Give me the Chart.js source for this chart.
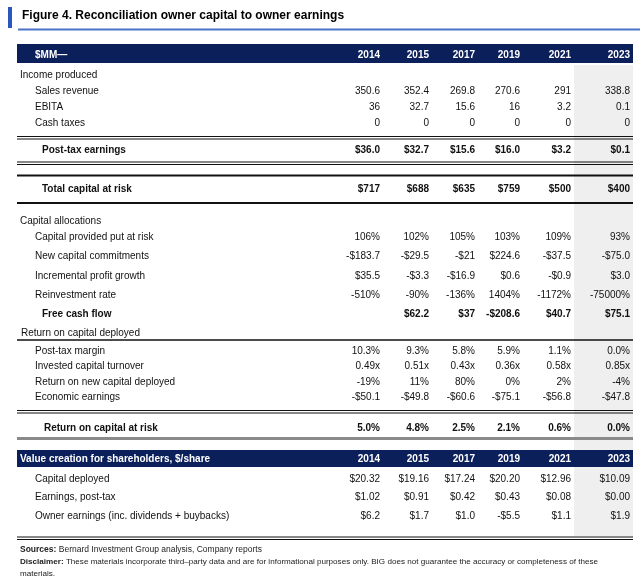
<!DOCTYPE html>
<html>
<head>
<meta charset="utf-8">
<script src="https://cdn.jsdelivr.net/npm/chart.js@4.4.1/dist/chart.umd.min.js"></script>
<style>
  html, body { margin: 0; padding: 0; background: #fff; }
  #wrap { position: relative; width: 640px; height: 577px; }
</style>
</head>
<body>
<div id="wrap"><canvas id="table"></canvas></div>
<script>
// column headers
const years = ["2014", "2015", "2017", "2019", "2021", "2023"];

// income produced
const salesRevenue = [350.6, 352.4, 269.8, 270.6, 291, 338.8];
const ebita = [36, 32.7, 15.6, 16, 3.2, 0.1];
const cashTaxes = [0, 0, 0, 0, 0, 0];
const postTaxEarnings = [36.0, 32.7, 15.6, 16.0, 3.2, 0.1];
const totalCapitalAtRisk = [717, 688, 635, 759, 500, 400];

// capital allocations
const capitalProvided = [106, 102, 105, 103, 109, 93];
const newCapital = [-183.7, -29.5, -21, 224.6, -37.5, -75.0];
const newCapitalDp = [1, 1, 0, 1, 1, 1];
const incrementalProfit = [35.5, -3.3, -16.9, 0.6, -0.9, 3.0];
const reinvestmentRate = [-510, -90, -136, 1404, -1172, -75000];
const freeCashFlow = [null, 62.2, 37, -208.6, 40.7, 75.1];
const freeCashFlowDp = [1, 1, 0, 1, 1, 1];

// return on capital deployed
const postTaxMargin = [10.3, 9.3, 5.8, 5.9, 1.1, 0.0];
const capitalTurnover = [0.49, 0.51, 0.43, 0.36, 0.58, 0.85];
const returnOnNewCapital = [-19, 11, 80, 0, 2, -4];
const economicEarnings = [-50.1, -49.8, -60.6, -75.1, -56.8, -47.8];
const returnOnCapitalAtRisk = [5.0, 4.8, 2.5, 2.1, 0.6, 0.0];

// per share
const capitalDeployedPerShare = [20.32, 19.16, 17.24, 20.20, 12.96, 10.09];
const earningsPerShare = [1.02, 0.91, 0.42, 0.43, 0.08, 0.00];
const ownerEarningsPerShare = [6.2, 1.7, 1.0, -5.5, 1.1, 1.9];

// formatters
const plain = v => String(v);
const money = dp => (v, i) => {
  const d = Array.isArray(dp) ? dp[i] : dp;
  return (v < 0 ? "-$" : "$") + Math.abs(v).toFixed(d);
};
const pct = dp => v => v.toFixed(dp) + "%";
const times = v => v.toFixed(2) + "x";

const NAVY = "#0b1f5a";
const FONT = "'Liberation Sans', Arial, sans-serif";

// table layout (positions in canvas units)
const colRight = [380, 429, 475, 520, 571, 630];
const rows = [
  { label: "$MM\u2014", x: 35, y: 55, head: true },
  { label: "Income produced", x: 20, y: 75 },
  { label: "Sales revenue", x: 35, y: 91, values: salesRevenue, fmt: plain },
  { label: "EBITA", x: 35, y: 107, values: ebita, fmt: plain },
  { label: "Cash taxes", x: 35, y: 123, values: cashTaxes, fmt: plain },
  { label: "Post-tax earnings", x: 42, y: 150.5, values: postTaxEarnings, fmt: money(1), bold: true },
  { label: "Total capital at risk", x: 42, y: 189.5, values: totalCapitalAtRisk, fmt: money(0), bold: true },
  { label: "Capital allocations", x: 20, y: 221 },
  { label: "Capital provided put at risk", x: 35, y: 237.5, values: capitalProvided, fmt: pct(0) },
  { label: "New capital commitments", x: 35, y: 256.5, values: newCapital, fmt: money(newCapitalDp) },
  { label: "Incremental profit growth", x: 35, y: 276, values: incrementalProfit, fmt: money(1) },
  { label: "Reinvestment rate", x: 35, y: 295, values: reinvestmentRate, fmt: pct(0) },
  { label: "Free cash flow", x: 42, y: 314, values: freeCashFlow, fmt: money(freeCashFlowDp), bold: true },
  { label: "Return on capital deployed", x: 21, y: 333.5 },
  { label: "Post-tax margin", x: 35, y: 351, values: postTaxMargin, fmt: pct(1) },
  { label: "Invested capital turnover", x: 35, y: 366.5, values: capitalTurnover, fmt: times },
  { label: "Return on new capital deployed", x: 35, y: 382, values: returnOnNewCapital, fmt: pct(0) },
  { label: "Economic earnings", x: 35, y: 397.5, values: economicEarnings, fmt: money(1) },
  { label: "Return on capital at risk", x: 44, y: 428, values: returnOnCapitalAtRisk, fmt: pct(1), bold: true },
  { label: "Value creation for shareholders, $/share", x: 20, y: 459, head: true },
  { label: "Capital deployed", x: 35, y: 479, values: capitalDeployedPerShare, fmt: money(2) },
  { label: "Earnings, post-tax", x: 35, y: 497.5, values: earningsPerShare, fmt: money(2) },
  { label: "Owner earnings (inc. dividends + buybacks)", x: 35, y: 516.5, values: ownerEarningsPerShare, fmt: money(1) },
];
const rules = [
  { y: 136.5, w: 1 }, { y: 139, w: 1 },
  { y: 162, w: 1 }, { y: 164.5, w: 1 },
  { y: 175.5, w: 2 },
  { y: 203, w: 2 },
  { y: 340, w: 1.5 },
  { y: 410.5, w: 1 }, { y: 413, w: 1 },
  { y: 438.5, w: 3, color: "#8a8a8a" },
  { y: 537, w: 1 }, { y: 539.5, w: 1 },
];
const bands = [{ y0: 44, y1: 63 }, { y0: 450, y1: 467 }];

// one dataset for row labels, one per year column
const labelData = rows.map(r => ({
  x: r.x, y: r.y, text: r.label,
  bold: r.bold || r.head, color: r.head ? "#fff" : "#111", align: "left",
}));
const yearSets = years.map((yr, c) => ({
  label: yr,
  data: rows.filter(r => r.head || r.values).flatMap(r => {
    if (r.head) return [{ x: colRight[c], y: r.y, text: yr, bold: true, color: "#fff", align: "right" }];
    const v = r.values[c];
    if (v == null) return [];
    return [{ x: colRight[c], y: r.y, text: r.fmt(v, c), bold: !!r.bold, color: "#111", align: "right" }];
  }),
}));

const tablePlugin = {
  id: "tableDraw",
  beforeDatasetsDraw(chart) {
    const { ctx, scales: { x, y } } = chart;
    const px = v => x.getPixelForValue(v);
    const py = v => y.getPixelForValue(v);
    ctx.save();
    // shaded latest column
    ctx.fillStyle = "#efefef";
    ctx.fillRect(px(574), py(65), px(633) - px(574), py(536) - py(65));
    // navy header bands
    ctx.fillStyle = NAVY;
    bands.forEach(b => ctx.fillRect(px(17), py(b.y0), px(633) - px(17), py(b.y1) - py(b.y0)));
    // horizontal rules
    rules.forEach(r => {
      ctx.strokeStyle = r.color || "#111";
      ctx.lineWidth = r.w;
      ctx.beginPath();
      ctx.moveTo(px(17), py(r.y));
      ctx.lineTo(px(633), py(r.y));
      ctx.stroke();
    });
    // title block
    ctx.fillStyle = "#2b56c0";
    ctx.fillRect(px(8), py(7), 4, 21);
    ctx.strokeStyle = "#4a72c8";
    ctx.lineWidth = 2;
    ctx.beginPath();
    ctx.moveTo(px(18), py(29.5));
    ctx.lineTo(px(640), py(29.5));
    ctx.stroke();
    ctx.fillStyle = "#000";
    ctx.font = "bold 12px " + FONT;
    ctx.textBaseline = "alphabetic";
    ctx.textAlign = "left";
    ctx.fillText("Figure 4. Reconciliation owner capital to owner earnings", px(22), py(19));
    // footnotes
    const note = (bold, rest, yy, size) => {
      ctx.font = "bold " + size + "px " + FONT;
      ctx.fillText(bold, px(20), py(yy));
      const w = bold ? ctx.measureText(bold + " ").width : 0;
      ctx.font = size + "px " + FONT;
      ctx.fillText(rest, px(20) + w, py(yy));
    };
    ctx.fillStyle = "#222";
    note("Sources:", "Bernard Investment Group analysis, Company reports", 552, 8.5);
    note("Disclaimer:", "These materials incorporate third\u2013party data and are for informational purposes only. BIG does not guarantee the accuracy or completeness of these", 564, 8.1);
    note("", "materials.", 576, 8.1);
    ctx.restore();
  },
  afterDatasetsDraw(chart) {
    const { ctx } = chart;
    ctx.save();
    ctx.textBaseline = "middle";
    chart.data.datasets.forEach((ds, i) => {
      const meta = chart.getDatasetMeta(i);
      meta.data.forEach((pt, j) => {
        const cell = ds.data[j];
        ctx.font = (cell.bold ? "bold " : "") + "10px " + FONT;
        ctx.fillStyle = cell.color;
        ctx.textAlign = cell.align;
        ctx.fillText(cell.text, pt.x, pt.y);
      });
    });
    ctx.restore();
  },
};

new Chart(document.getElementById("table"), {
  type: "scatter",
  data: { datasets: [{ label: "rows", data: labelData }, ...yearSets] },
  options: {
    responsive: true,
    maintainAspectRatio: false,
    animation: false,
    layout: { padding: 0 },
    elements: { point: { radius: 0, hoverRadius: 0 } },
    plugins: { legend: { display: false }, tooltip: { enabled: false } },
    scales: {
      x: { type: "linear", min: 0, max: 640, display: false },
      y: { type: "linear", min: 0, max: 577, reverse: true, display: false },
    },
  },
  plugins: [tablePlugin],
});
</script>
</body>
</html>
